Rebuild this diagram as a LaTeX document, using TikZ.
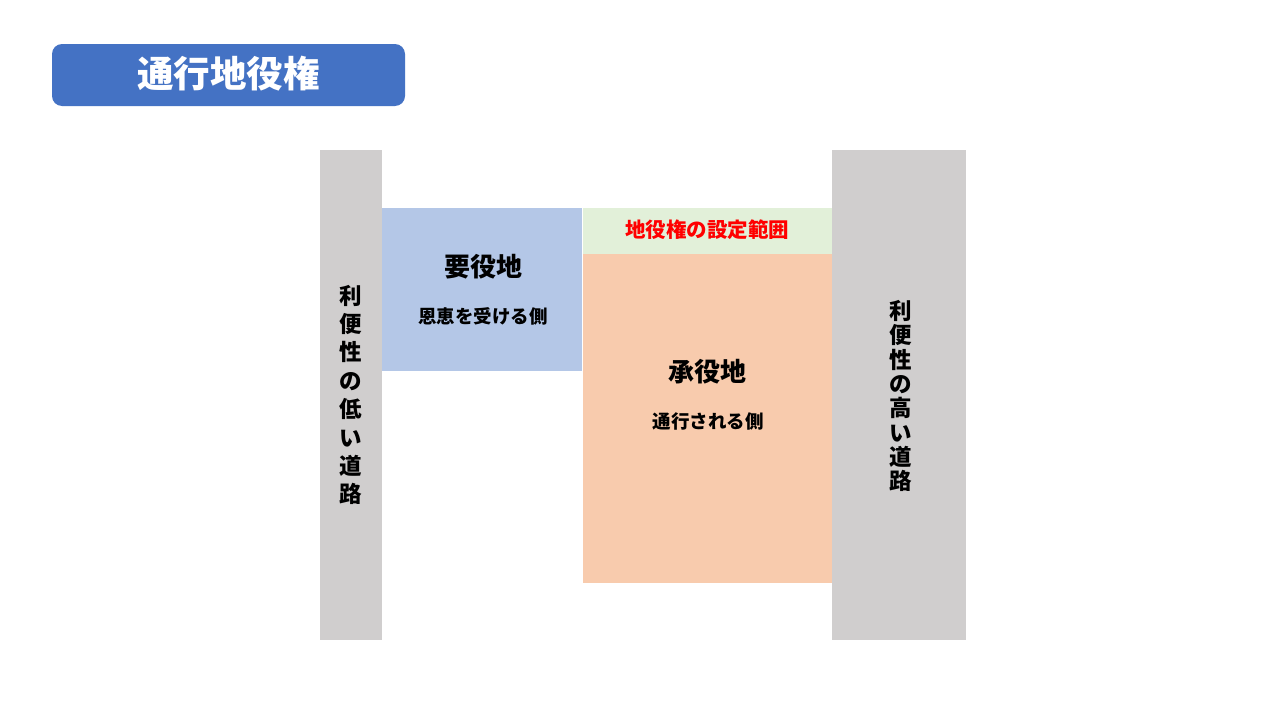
\documentclass[tikz,border=0pt]{standalone}
\usepackage{fontspec}
\newfontfamily\jp{Noto Sans CJK JP}
\definecolor{titleblue}{HTML}{4472C4}
\definecolor{roadgray}{HTML}{D0CECE}
\definecolor{domblue}{HTML}{B4C7E7}
\definecolor{easegreen}{HTML}{E2F0D9}
\definecolor{servorange}{HTML}{F8CBAD}
\definecolor{easered}{HTML}{FF0000}
\tikzset{
  big/.style={font=\jp\bfseries\fontsize{26}{30}\selectfont, text=black, inner sep=0pt},
  small/.style={font=\jp\bfseries\fontsize{18.5}{22}\selectfont, text=black, inner sep=0pt},
  vert/.style={align=center, text=black, inner sep=0pt},
}
\begin{document}
\begin{tikzpicture}[x=1pt,y=-1pt]
\useasboundingbox (0,0) rectangle (1280,720);
\fill[white] (0,0) rectangle (1280,720);
% title
\fill[titleblue, rounded corners=10pt] (52,44) rectangle (405,106);
\node[font=\jp\bfseries\fontsize{36.5}{40}\selectfont, text=white, inner sep=0pt] (title) at (228.5,74) {通行地役権};
% roads
\fill[roadgray] (320,150) rectangle (382,640);
\fill[roadgray] (832,150) rectangle (966,640);
\node[vert, font=\jp\bfseries\fontsize{22.5}{28.4}\selectfont] (lowroad) at (351,395) {利\\便\\性\\の\\低\\い\\道\\路};
\node[vert, font=\jp\bfseries\fontsize{22.5}{24.3}\selectfont] (highroad) at (901,396) {利\\便\\性\\の\\高\\い\\道\\路};
% dominant land
\fill[domblue] (382,208) rectangle (582,371);
\node[big] (dom) at (483,267) {要役地};
\node[small] (domsub) at (483,316) {恩恵を受ける側};
% easement range
\fill[easegreen] (583,208) rectangle (832,254);
\node[font=\jp\bfseries\fontsize{20.5}{24}\selectfont, text=easered, inner sep=0pt] (range) at (707,230) {地役権の設定範囲};
% servient land
\fill[servorange] (583,254) rectangle (832,583);
\node[big] (serv) at (707,372) {承役地};
\node[small] (servsub) at (708,421) {通行される側};
\end{tikzpicture}
\end{document}
